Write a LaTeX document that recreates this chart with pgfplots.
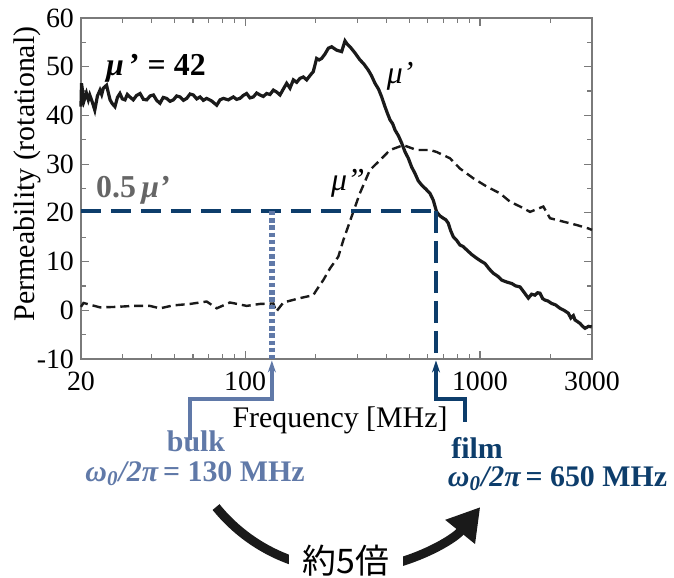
\documentclass[border=0pt]{standalone}
\usepackage{fontspec}
\setmainfont{Liberation Serif}
\newfontfamily\cjk{Noto Sans CJK JP}
\usepackage{pgfplots}
\pgfplotsset{compat=1.18}
\usetikzlibrary{arrows.meta}

\definecolor{filmblue}{HTML}{0D3D6B}
\definecolor{bulkblue}{HTML}{6079A8}
\definecolor{labgray}{HTML}{666666}
\definecolor{axgray}{HTML}{7A7A7A}
\definecolor{curve}{HTML}{1A1A1A}

\begin{document}
\begin{tikzpicture}
\begin{axis}[
  at={(0,0)}, anchor=south west,
  scale only axis, width=255.5bp, height=170.5bp,
  xmode=log, xmin=20, xmax=3000, ymin=-10, ymax=60,
  xtick={20,100,1000,3000}, xticklabels={20,100,1000,3000},
  minor xtick={30,40,50,60,70,80,90,200,300,400,500,600,700,800,900,2000},
  ytick={-10,0,...,60}, minor ytick={-5,5,...,55},
  tick align=inside, major tick length=4bp, minor tick length=2.5bp,
  axis line style={axgray, line width=0.8bp},
  every tick/.style={axgray, line width=0.6bp},
  tick label style={font=\fontsize{14}{16}\selectfont},
  xticklabel style={yshift=-3bp},
  /pgf/number format/assume math mode=true,
  label style={font=\fontsize{15}{17}\selectfont},
  xlabel={Frequency [MHz]}, ylabel={Permeability (rotational)},
  xlabel style={at={(axis description cs:0.507,-0.179)}, anchor=center},
  ylabel style={at={(axis description cs:-0.104,0.543)}, anchor=center},
  clip=false,
]
% mu' (solid)
\addplot[curve, line width=1.6bp] coordinates {
(20,41.8) (20.1,46.6) (20.6,43.0) (21.1,44.6) (21.5,43.2) (21.8,44.2) (22.4,42.6) (22.9,41.1)
(23.5,44.0) (24.1,45.2) (24.5,44.3) (24.9,45.6) (25.7,46.2) (26.2,44.5) (26.6,43.2) (27.2,42.4)
(27.9,41.8) (28.6,43.7) (29.3,44.5) (30.0,43.4) (30.8,43.2) (31.5,44.3) (32.3,43.8) (33.4,43.2)
(34.5,44.1) (35.7,44.5) (36.9,43.3) (38.1,43.2) (39.4,44.0) (40.7,44.2) (42.0,43.1) (43.4,42.5)
(44.8,43.7) (46.3,43.5) (47.9,42.9) (49.5,43.2) (51.1,44.0) (52.8,43.8) (54.6,43.1) (56.4,43.5)
(58.3,44.4) (60.2,44.2) (62.2,43.4) (64.3,43.8) (66.4,43.1) (68.6,43.5) (71.9,43.0) (75.7,42.1)
(78.2,43.2) (80.8,43.5) (84.8,43.2) (89.1,43.8) (92.0,43.3) (95.1,43.5) (98.2,44.1) (101.5,44.5)
(104.9,43.6) (108.4,43.8) (112.0,44.6) (115.7,44.2) (119.5,43.9) (123.5,44.5) (127.6,44.3)
(131.9,45.2) (136.3,44.8) (140.8,44.2) (145.4,45.4) (150.3,46.6) (155.3,45.6) (160.5,47.3)
(165.8,46.8) (171.2,47.6) (177.0,47.9) (182.9,47.3) (189.0,48.2) (195.2,49.0) (201.6,51.7)
(206.5,51.4) (211.8,51.7) (218.8,52.6) (226.2,53.8) (233.6,54.1) (245.4,53.4) (257.7,53.1)
(266.3,55.3) (272.5,54.6) (279.7,54.1) (293.0,52.9) (308.4,51.4) (320.0,50.6) (334.7,49.3)
(345.0,48.2) (357.4,46.6) (370.0,45.4) (381.6,43.8) (394.2,41.8) (404.0,40.4) (414,39.1)
(425,38.3) (435,37.0) (450,35.8) (464.5,34.3) (480,32.5) (495.6,31.2) (512,29.4) (529,28.1)
(546,26.6) (565,25.7) (588,24.9) (612.9,24.0) (633,22.6) (654,20.2) (675,19.4) (698,18.9)
(715,18.6) (733,17.9) (750,16.4) (770,15.1) (795,14.4) (822,13.4) (848,13.1) (878,12.4)
(920,11.5) (968,10.7) (1010,10.1) (1051,9.6) (1095,8.5) (1140,7.6) (1190,7.0) (1238,6.2)
(1300,5.8) (1366,5.5) (1420,5.0) (1482,4.8) (1530,3.9) (1608,2.5) (1660,3.3) (1716,3.1)
(1760,3.6) (1803,3.5) (1850,2.4) (1892,2.1) (1950,1.9) (2021,1.4) (2100,1.1) (2193,0.4)
(2280,0.0) (2379,-0.6) (2440,-1.6) (2500,-1.1) (2541,-2.0) (2600,-2.3) (2668,-2.7)
(2740,-3.3) (2803,-3.7) (2900,-3.3) (2993,-3.4)
};
% mu'' (dashed)
\addplot[curve, line width=1.2bp, dash pattern=on 4.5bp off 2.5bp] coordinates {
(20,0.7) (20.5,1.5) (24.1,0.6) (28.4,0.7) (33.4,0.9) (39.3,0.9) (43.4,0.4) (49.4,1.0)
(58.2,1.3) (68.6,1.8) (75.7,0.4) (86.2,1.6) (101.5,0.9) (115.7,1.3) (131.9,1.4)
(135.6,-0.3) (145.5,1.6) (171.3,2.5) (195.2,3.1) (201.7,4.2) (215.3,6.2) (229.9,8.6)
(249.4,11.0) (262,14.4) (284,19.2) (308,24.0) (340,28.8) (375,30.8) (414,32.9)
(472,33.9) (538,32.9) (613,32.9) (654,32.5) (746,31.2) (822,29.1) (937,27.1)
(1069,25.4) (1218,24.0) (1343,22.3) (1482,21.3) (1635,20.2) (1862,21.3) (1988,18.9)
(2265,18.2) (2583,17.5) (2895,16.8) (3000,16.5)
};
% guide lines
\draw[filmblue, line width=2.3bp, dash pattern=on 10bp off 5bp] (axis cs:20,20.4) -- (axis cs:650,20.4);
\draw[filmblue, line width=2.3bp, dash pattern=on 11bp off 4bp] (axis cs:650,20.4) -- (axis cs:650,-10);
\draw[bulkblue, line width=2.9bp, dash pattern=on 2.2bp off 1.4bp] (axis cs:130,20.4) -- (axis cs:130,-10);
% brackets
\draw[bulkblue, line width=1.8bp, -{Stealth[length=6bp,width=4bp]}]
  (axis cs:58.2,-26.6) -- (axis cs:58.2,-18.2) -- (axis cs:130,-18.2) -- (axis cs:130,-10.3);
\draw[filmblue, line width=1.8bp, -{Stealth[length=6bp,width=4bp]}]
  (axis cs:864,-22.9) -- (axis cs:864,-18.2) -- (axis cs:650,-18.2) -- (axis cs:650,-10.3);
% labels
\node[font=\fontsize{16}{18}\selectfont\bfseries] at (axis cs:41.7,49.7) {\itshape μ\upshape\,’ = 42};
\node[font=\fontsize{16}{18}\selectfont\bfseries, text=labgray] at (axis cs:33.3,24.7) {0.5\,\itshape μ’};
\node[font=\fontsize{16}{18}\selectfont\itshape] at (axis cs:457,48.1) {μ’};
\node[font=\fontsize{16}{18}\selectfont\itshape] at (axis cs:274,26.1) {μ”};
\node[font=\fontsize{15}{17}\selectfont\bfseries, text=bulkblue] at (axis cs:61.8,-27.0) {bulk};
\node[font=\fontsize{15}{17}\selectfont\bfseries, text=bulkblue] at (axis cs:61.2,-33.6)
  {{\itshape ω\textsubscript{0}/2π}\,= 130 MHz};
\node[font=\fontsize{15}{17}\selectfont\bfseries, text=filmblue] at (axis cs:972,-28.3) {film};
\node[font=\fontsize{15}{17}\selectfont\bfseries, text=filmblue] at (axis cs:2140,-34.6)
  {{\itshape ω\textsubscript{0}/2π}\,= 650 MHz};
% curved arrow
\draw[curve, line width=4.5bp, -{Triangle[length=16bp,width=18bp]}]
  (axis cs:75.2,-40.4) arc[start angle=219, end angle=321, radius=85bp];
\node[fill=white, font=\cjk\fontsize{17}{19}\selectfont, inner xsep=7bp, inner ysep=2bp]
  at (axis cs:269,-51.3) {約5倍};
\coordinate (tl) at (axis cs:9.04,63.7);
\coordinate (br) at (axis cs:6708,-54.8);
\end{axis}
\pgfresetboundingbox
\path[use as bounding box] (tl) rectangle (br);
\end{tikzpicture}
\end{document}
